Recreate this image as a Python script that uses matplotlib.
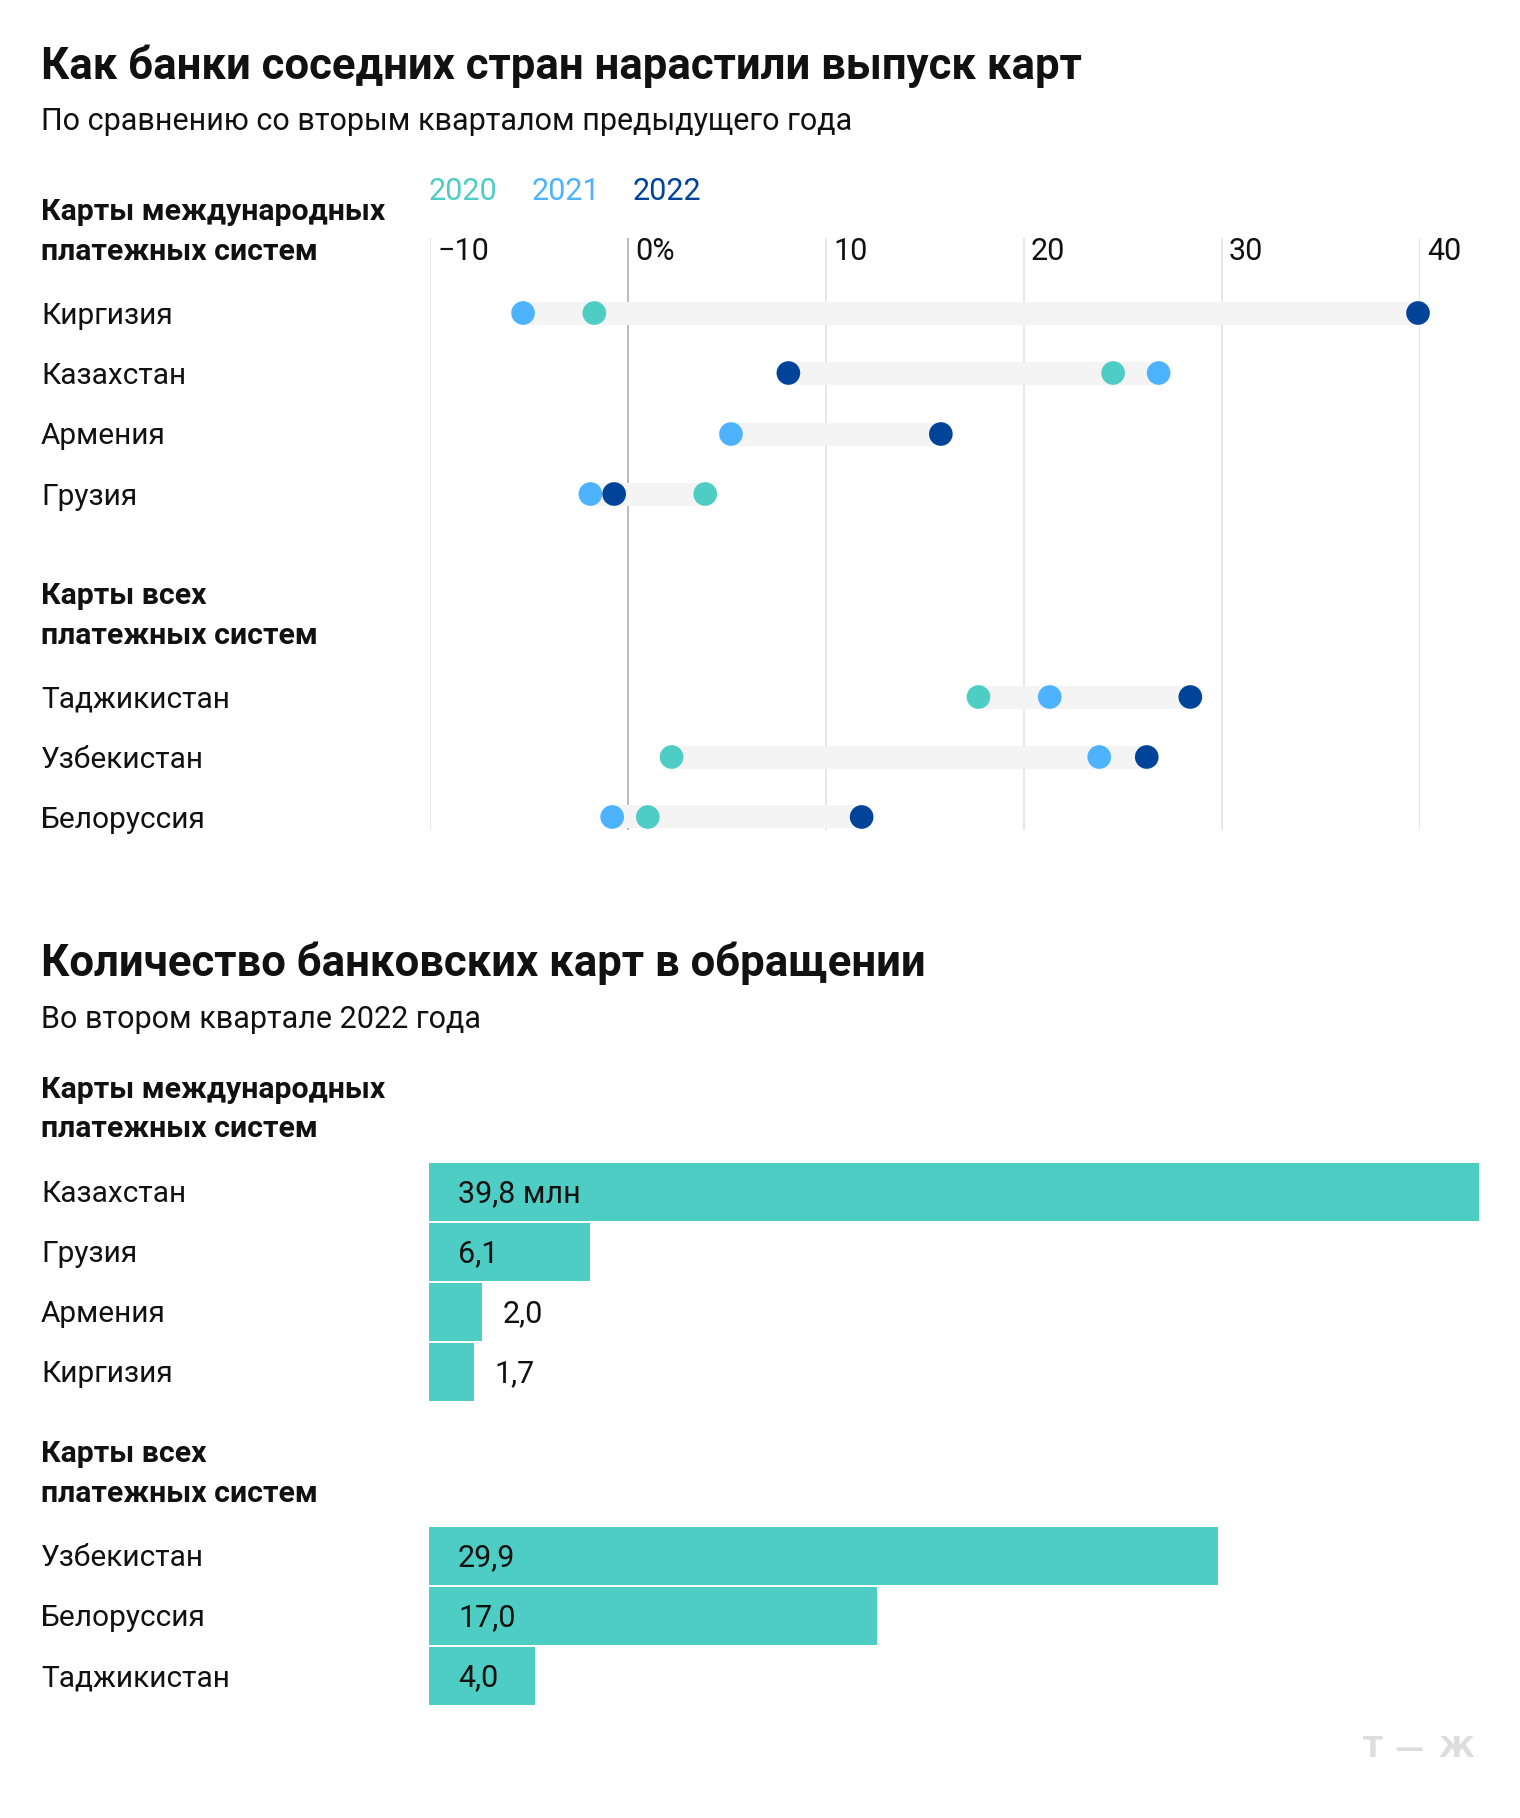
import matplotlib
matplotlib.use("Agg")
import matplotlib.pyplot as plt
import matplotlib.transforms as mtransforms
import numpy as np

# --- data -------------------------------------------------------------------
dot_countries = ["Киргизия", "Казахстан", "Армения", "Грузия",
                 "Таджикистан", "Узбекистан", "Белоруссия"]
growth_2020 = [-1.7, 24.5, np.nan, 3.9, 17.7, 2.2, 1.0]
growth_2021 = [-5.3, 26.8, 5.2, -1.9, 21.3, 23.8, -0.8]
growth_2022 = [39.9, 8.1, 15.8, -0.7, 28.4, 26.2, 11.8]
growth_ticks = [-10, 0, 10, 20, 30, 40]
growth_tick_labels = ["\u221210", "0%", "10", "20", "30", "40"]

bar_countries = ["Казахстан", "Грузия", "Армения", "Киргизия",
                 "Узбекистан", "Белоруссия", "Таджикистан"]
cards_mln = [39.8, 6.1, 2.0, 1.7, 29.9, 17.0, 4.0]

years = ["2020", "2021", "2022"]

# --- style / layout -----------------------------------------------------------
W, H = 1520, 1818
TEAL = "#4ECDC4"
LIGHT_BLUE = "#4DB3FF"
DARK_BLUE = "#00449A"
RANGE_GREY = "#F4F4F4"
FONT = ["Roboto", "DejaVu Sans"]

plt.rcParams["font.family"] = FONT
plt.rcParams["text.color"] = "#111111"

fig = plt.figure(figsize=(W / 100, H / 100), dpi=100)


def fx(px):
    return px / W


def fy(py):
    return 1 - py / H


def add_ax(left, top, right, bottom):
    ax = fig.add_axes([fx(left), fy(bottom), (right - left) / W, (bottom - top) / H])
    ax.set_axis_off()
    return ax


def ftext(x, y, s, size=22, weight="normal", **kw):
    fig.text(fx(x), fy(y), s, fontsize=size, fontweight=weight, va="baseline", **kw)


LEFT = 41
TXT = 22
ROW_TXT = 21.5

# titles
ftext(LEFT, 79, "Как банки соседних стран нарастили выпуск карт", size=31.5, weight="bold")
ftext(LEFT, 130, "По сравнению со вторым кварталом предыдущего года", size=TXT)

ftext(LEFT, 976, "Количество банковских карт в обращении", size=31.5, weight="bold")
ftext(LEFT, 1028, "Во втором квартале 2022 года", size=TXT)

# section headings
for y1, y2, first in [(220, 260, "Карты международных"), (604, 644, "Карты всех"),
                      (1098, 1137, "Карты международных"), (1462, 1502, "Карты всех")]:
    ftext(LEFT, y1, first, size=21.8, weight="bold")
    ftext(LEFT, y2, "платежных систем", size=21.8, weight="bold")

# legend
for x, year, col in zip([429, 532, 633], years, [TEAL, LIGHT_BLUE, DARK_BLUE]):
    ftext(x, 200, year, size=TXT, color=col)

# --- dot chart ----------------------------------------------------------------
dot_rows_y = [313, 373, 434, 494, 697, 757, 817]
ax1 = add_ax(430, 238, 1420, 830)
ax1.set_xlim(growth_ticks[0], growth_ticks[-1])
ax1.set_ylim(830, 238)

for t in growth_ticks:
    ax1.axvline(t, color="#B0B0B0" if t == 0 else "#E3E3E3", lw=1.2, zorder=1)

tick_tr = mtransforms.offset_copy(ax1.transData, fig, x=7, y=0, units="dots")
for t, lab in zip(growth_ticks, growth_tick_labels):
    ax1.text(t, 260, lab, transform=tick_tr, fontsize=TXT, va="baseline", ha="left")

vals = np.array([growth_2020, growth_2021, growth_2022], dtype=float)
lo = np.nanmin(vals, axis=0)
hi = np.nanmax(vals, axis=0)
ax1.barh(dot_rows_y, hi - lo, left=lo, height=23, color=RANGE_GREY, zorder=2)

for series, col in zip(vals, [TEAL, LIGHT_BLUE, DARK_BLUE]):
    ax1.scatter(series, dot_rows_y, s=290, color=col, zorder=3,
                edgecolors="none", clip_on=False)

for y, name in zip(dot_rows_y, dot_countries):
    ftext(LEFT, y + 10.5, name, size=ROW_TXT)

# --- bar chart ----------------------------------------------------------------
bar_rows_y = [1192, 1252, 1312, 1372, 1556, 1616, 1676]
ax2 = add_ax(429, 1150, 1479, 1720)
ax2.set_xlim(0, max(cards_mln))
ax2.set_ylim(1720, 1150)
ax2.barh(bar_rows_y, cards_mln, height=57.5, color=TEAL, zorder=2)

inside_tr = mtransforms.offset_copy(ax2.transData, fig, x=29, y=-10.5, units="dots")
outside_tr = mtransforms.offset_copy(ax2.transData, fig, x=21, y=-10.5, units="dots")
for i, (y, v) in enumerate(zip(bar_rows_y, cards_mln)):
    lab = f"{v:.1f}".replace(".", ",")
    if i == 0:
        lab += " млн"
    if v >= 3:
        ax2.text(0, y, lab, transform=inside_tr, fontsize=TXT, va="baseline")
    else:
        ax2.text(v, y, lab, transform=outside_tr, fontsize=TXT, va="baseline")

for y, name in zip(bar_rows_y, bar_countries):
    ftext(LEFT, y + 10.5, name, size=ROW_TXT)

# watermark, letters placed apart to mimic the wide logo
for x, ch in [(1373, "Т"), (1409, "—"), (1456, "Ж")]:
    fig.text(fx(x), fy(1757), ch, fontsize=21, fontweight="bold", color="#DDDDDD",
             ha="center", va="baseline", family="DejaVu Sans")

fig.savefig("out.png", dpi=100, facecolor="white")
